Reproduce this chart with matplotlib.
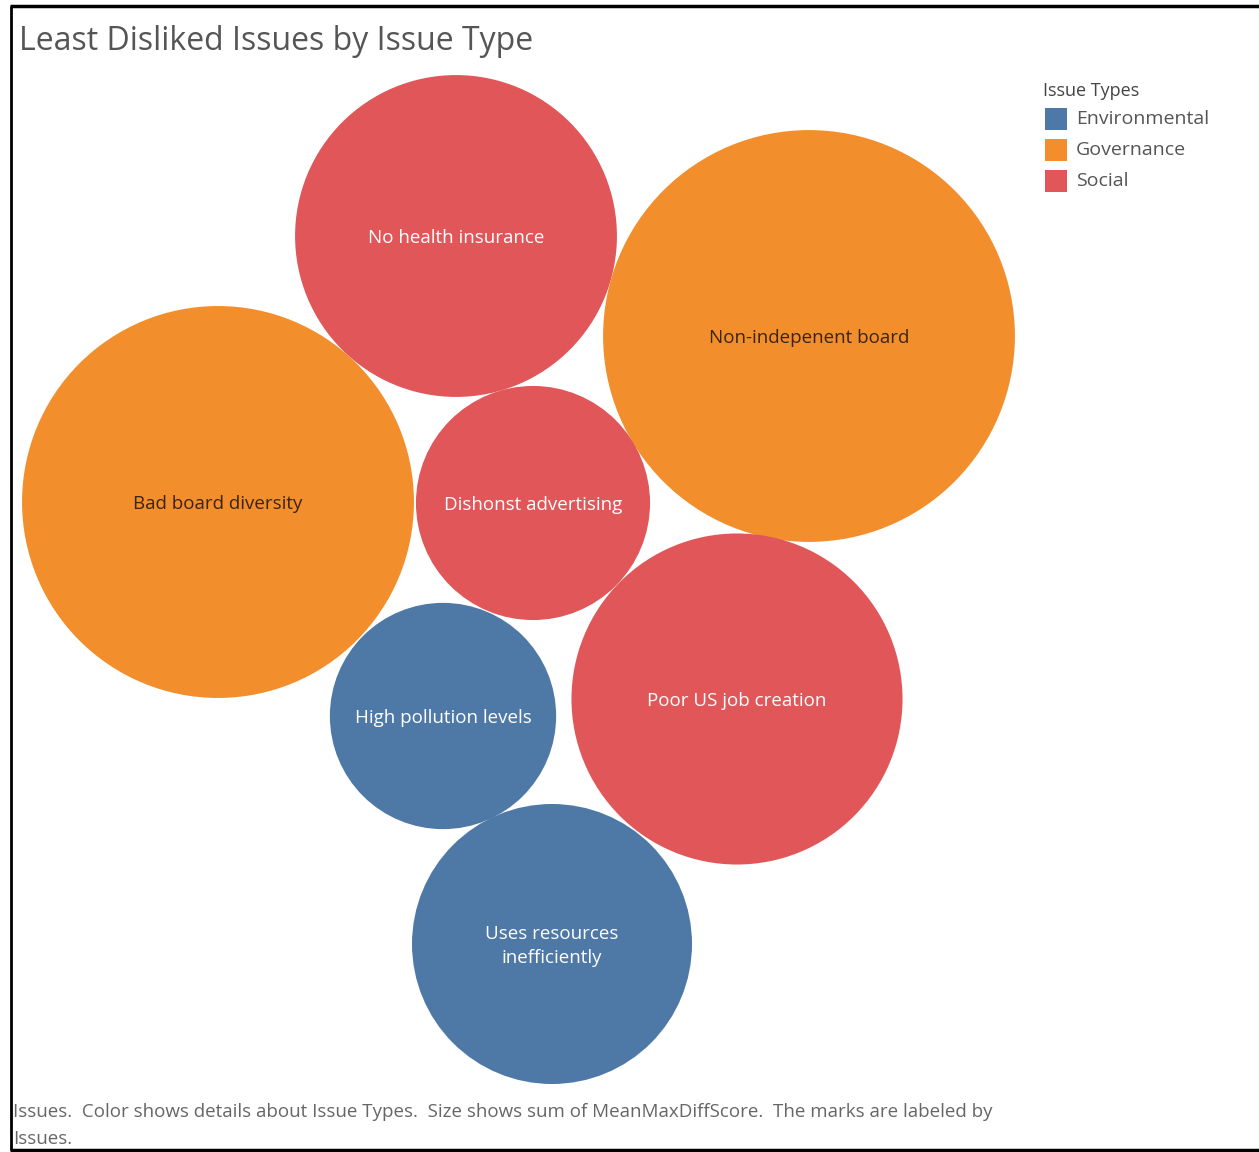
import numpy as np
import matplotlib.pyplot as plt
from matplotlib.patches import Circle, Rectangle

# issues, their type and the summed score that drives bubble area
issues = ["No health insurance", "Non-indepenent board", "Bad board diversity",
          "Dishonst advertising", "High pollution levels", "Poor US job creation",
          "Uses resources\ninefficiently"]
issue_types = ["Social", "Governance", "Governance", "Social",
               "Environmental", "Social", "Environmental"]
scores = [2.59, 4.24, 3.84, 1.37, 1.28, 2.74, 1.96]

type_names = ["Environmental", "Governance", "Social"]
type_colors = {"Environmental": "#4E79A7", "Governance": "#F28E2B", "Social": "#E15759"}
label_colors = {"Environmental": "white", "Governance": "#3b2410", "Social": "white"}

# packed layout (pixel space of the canvas), one centre per issue
centres = [(456, 236), (809, 336), (218, 502), (533, 503),
           (443, 716), (737, 699), (552, 944)]
px_per_sqrt_score = 100.0

W, H = 1259, 1152
fig = plt.figure(figsize=(W / 100, H / 100), dpi=100)
ax = fig.add_axes([0, 0, 1, 1])
ax.set_xlim(0, W)
ax.set_ylim(H, 0)
ax.axis("off")

font = ["Open Sans", "DejaVu Sans"]

# frame
ax.plot([11, 11], [6, 1150], color="black", lw=2, solid_capstyle="butt")
ax.plot([10, W], [6, 6], color="black", lw=2.5, solid_capstyle="butt")
ax.plot([10, W], [1150, 1150], color="black", lw=2.5, solid_capstyle="butt")

ax.text(19, 42, "Least Disliked Issues by Issue Type", fontsize=23, color="#555555",
        family=font, va="center", ha="left")

for name, kind, s, (cx, cy) in zip(issues, issue_types, scores, centres):
    r = px_per_sqrt_score * np.sqrt(s)
    ax.add_patch(Circle((cx, cy), r, facecolor=type_colors[kind], edgecolor="none"))
    ax.text(cx, cy + 2, name, ha="center", va="center", fontsize=13.5,
            color=label_colors[kind], family=font, linespacing=1.45)

# legend
ax.text(1043, 91, "Issue Types", fontsize=13, color="#444444", family=font,
        va="center", ha="left")
for i, t in enumerate(type_names):
    y = 119 + i * 31
    ax.add_patch(Rectangle((1045, y - 11), 22, 22, facecolor=type_colors[t], edgecolor="none"))
    ax.text(1076, y, t, fontsize=14, color="#555555", family=font, va="center", ha="left")

ax.text(13, 1112, "Issues.  Color shows details about Issue Types.  Size shows sum of MeanMaxDiffScore.  "
        "The marks are labeled by", fontsize=13.5, color="#666666", family=font,
        va="center", ha="left")
ax.text(13, 1139, "Issues.", fontsize=13.5, color="#666666", family=font,
        va="center", ha="left")

fig.savefig("out.png", dpi=100)
